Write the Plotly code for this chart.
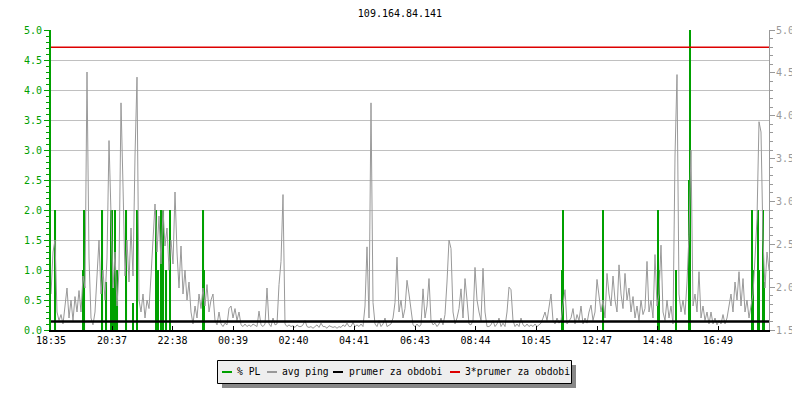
import pandas as pd
import plotly.graph_objects as go

title = "109.164.84.141"
start = pd.Timestamp("2024-05-14 18:35")
span_min = 1436

# avg ping [ms], one reading every 4 minutes starting at 18:35
avg_ping = [
    1.92, 2.41, 2.55, 1.71, 1.61, 1.68, 1.57, 1.75, 1.99, 1.64,
    1.85, 1.61, 1.89, 1.71, 1.96, 1.71, 2.13, 1.99, 4.51, 2.34,
    1.64, 1.56, 1.71, 2.13, 2.55, 1.92, 2.20, 1.85, 2.34, 3.71,
    2.76, 1.99, 2.41, 1.78, 2.20, 4.15, 3.18, 2.13, 2.55, 2.06,
    2.69, 2.13, 3.53, 4.45, 1.85, 1.71, 1.92, 1.64, 1.85, 1.75,
    2.13, 2.62, 2.97, 2.41, 2.83, 2.27, 2.90, 2.48, 2.69, 2.20,
    2.55, 2.27, 3.11, 2.41, 1.99, 2.48, 1.92, 2.20, 1.85, 2.06,
    1.71, 1.57, 1.78, 1.64, 1.92, 1.75, 1.99, 1.78, 2.03, 1.71,
    1.85, 1.92, 1.61, 1.56, 1.71, 1.57, 1.54, 1.58, 1.56, 1.75,
    1.78, 1.64, 1.75, 1.61, 1.71, 1.56, 1.54, 1.57, 1.54, 1.56,
    1.54, 1.57, 1.55, 1.54, 1.72, 1.56, 1.54, 1.57, 1.99, 1.57,
    1.54, 1.64, 1.56, 1.57, 2.03, 2.30, 3.08, 1.57, 1.54, 1.56,
    1.54, 1.55, 1.53, 1.56, 1.54, 1.54, 1.56, 1.61, 1.54, 1.53,
    1.54, 1.52, 1.54, 1.56, 1.53, 1.58, 1.54, 1.54, 1.52, 1.55,
    1.54, 1.53, 1.54, 1.52, 1.54, 1.53, 1.56, 1.54, 1.58, 1.54,
    1.54, 1.59, 1.54, 1.56, 1.54, 1.57, 1.54, 1.78, 2.47, 1.64,
    4.15, 1.82, 1.57, 1.54, 1.61, 1.54, 1.57, 1.64, 1.54, 1.56,
    1.57, 1.64, 1.82, 2.35, 1.71, 1.85, 1.64, 1.75, 2.08, 1.92,
    1.71, 1.56, 1.54, 1.57, 1.54, 1.56, 1.98, 1.64, 1.78, 2.10,
    1.61, 1.56, 1.58, 1.54, 1.57, 1.64, 1.56, 1.68, 2.06, 2.55,
    2.45, 1.71, 1.57, 1.64, 1.75, 1.98, 1.64, 2.10, 1.85, 1.57,
    1.56, 1.61, 2.23, 1.85, 1.71, 1.61, 2.22, 1.71, 1.54, 1.54,
    1.56, 1.61, 1.54, 1.57, 1.64, 1.54, 1.58, 1.54, 1.71, 2.00,
    1.97, 1.61, 1.54, 1.57, 1.54, 1.64, 1.56, 1.54, 1.57, 1.54,
    1.56, 1.54, 1.57, 1.54, 1.56, 1.58, 1.64, 1.71, 1.61, 1.78,
    1.92, 1.61, 1.57, 1.64, 1.58, 1.61, 1.82, 1.97, 1.57, 1.61,
    1.64, 1.75, 1.57, 1.68, 1.61, 1.78, 1.57, 1.64, 1.58, 1.71,
    1.79, 1.61, 1.71, 2.09, 1.92, 1.71, 1.85, 1.64, 2.16, 1.92,
    1.78, 2.13, 1.85, 1.71, 2.26, 1.92, 1.75, 2.16, 1.85, 1.99,
    1.71, 1.89, 1.64, 1.78, 1.61, 1.85, 1.68, 1.75, 2.30, 1.71,
    1.85, 1.64, 2.38, 1.78, 1.92, 2.49, 1.71, 1.61, 1.85, 1.64,
    1.78, 1.57, 3.53, 4.48, 1.92, 1.71, 1.85, 1.68, 2.06, 2.61,
    3.60, 1.78, 1.92, 1.71, 2.18, 1.64, 1.78, 1.61, 1.71, 1.57,
    1.71, 1.57, 1.64, 1.56, 1.61, 1.57, 1.68, 1.57, 1.64, 1.78,
    1.92, 1.71, 2.06, 1.85, 2.18, 1.78, 2.10, 1.71, 1.85, 1.64,
    1.78, 1.92, 2.34, 2.80, 3.93, 3.81, 2.55, 1.99, 2.41, 2.20,
]

# packet loss events [%]
pl_times = [
    "18:44", "19:40", "19:42", "20:18", "20:26", "20:36", "20:38", "20:41",
    "20:43", "20:46", "20:48", "21:06", "21:19", "21:27", "22:06", "22:09",
    "22:16", "22:20", "22:26", "22:33", "23:40", "23:41", "11:38", "11:39",
    "12:59", "13:00", "14:49", "14:51", "15:25", "15:51", "15:53", "17:57",
    "17:59", "18:09", "18:11", "18:19", "18:21",
]
pl_values = [
    2.0, 1.0, 2.0, 2.0, 0.8, 2.0, 2.0, 0.7,
    2.0, 0.7, 1.0, 2.0, 0.45, 2.0, 2.0, 1.0,
    2.0, 2.0, 1.0, 2.0, 2.0, 1.0, 1.0, 2.0,
    2.0, 1.0, 2.0, 1.0, 1.0, 2.5, 5.0, 2.0,
    1.0, 2.0, 1.0, 2.0, 0.8,
]

prumer = 1.60  # prumer za obdobi [ms]

tick_labels = ["18:35", "20:37", "22:38", "00:39", "02:40", "04:41",
               "06:43", "08:44", "10:45", "12:47", "14:48", "16:49"]

GREEN = "#00a000"
GRAY = "#999999"
FONT = "DejaVu Sans Mono"

# the page body adds an 8px offset, so the figure itself is 8px smaller
W, H = 792, 392


def to_ts(hhmm):
    t = pd.Timestamp(f"{start.date()} {hhmm}")
    if t < start:
        t += pd.Timedelta(days=1)
    return t


ping_x = [start + pd.Timedelta(minutes=4 * i) for i in range(len(avg_ping))]
pl_x = [to_ts(t) for t in pl_times]
end = start + pd.Timedelta(minutes=span_min)

fig = go.Figure()
fig.add_trace(go.Bar(x=pl_x, y=pl_values, width=130000, marker=dict(color=GREEN, line_width=0),
                     name="% PL", yaxis="y"))
fig.add_trace(go.Scatter(x=ping_x, y=avg_ping, mode="lines", line=dict(color=GRAY, width=1),
                         name="avg ping", yaxis="y2"))
fig.add_trace(go.Scatter(x=[start, end], y=[prumer, prumer], mode="lines",
                         line=dict(color="black", width=2.5), name="prumer za obdobi", yaxis="y2"))
fig.add_trace(go.Scatter(x=[start, end], y=[3 * prumer, 3 * prumer], mode="lines",
                         line=dict(color="#dd0000", width=1.5), name="3*prumer za obdobi", yaxis="y2"))


# page pixel -> plot fraction (plot area is 51..769 x 30..330 on the page)
def px(p):
    return (p - 51) / 718


def py(p):
    return (330 - p) / 300


shapes = [
    dict(type="rect", xref="paper", yref="paper", x0=px(222), x1=px(576), y0=py(388), y1=py(365),
         fillcolor="#888888", line_width=0),
    dict(type="rect", xref="paper", yref="paper", x0=px(217.5), x1=px(571.5), y0=py(383.5), y1=py(360.5),
         fillcolor="#eeeeee", line=dict(color="black", width=1)),
]
annotations = []
legend_items = [("% PL", GREEN, 222, 235), ("avg ping", GRAY, 267, 280),
                ("prumer za obdobi", "black", 333, 347), ("3*prumer za obdobi", "#dd0000", 450, 463)]
for label, color, sx, tx in legend_items:
    shapes.append(dict(type="line", xref="paper", yref="paper", x0=px(sx), x1=px(sx + 10),
                       y0=py(372), y1=py(372), line=dict(color=color, width=2)))
    annotations.append(dict(text=label, xref="paper", yref="paper", x=px(tx), y=py(371.5),
                            xanchor="left", yanchor="middle", showarrow=False,
                            font=dict(family=FONT, size=9.7, color="black")))

fig.update_layout(
    width=W, height=H,
    margin=dict(l=43, r=31, t=22, b=70, autoexpand=False),
    paper_bgcolor="white", plot_bgcolor="white",
    showlegend=False,
    font=dict(family=FONT, size=10, color="black"),
    title=dict(text=title, x=(400 - 8) / W, xanchor="center", y=1 - 5.5 / H, yanchor="middle",
               font=dict(family=FONT, size=10, color="black")),
    shapes=shapes, annotations=annotations,
    xaxis=dict(type="date", range=[start, end], tickvals=[to_ts(t) for t in tick_labels],
               ticktext=tick_labels, ticks="inside", ticklen=4, tickcolor="black",
               showline=True, linecolor="black", linewidth=2, showgrid=False, automargin=False,
               tickfont=dict(family=FONT, size=10, color="black")),
    yaxis=dict(range=[0, 5], tick0=0, dtick=0.5, tickformat=".1f", automargin=False,
               tickfont=dict(family=FONT, size=10, color=GREEN),
               ticks="outside", ticklen=5, tickcolor=GREEN,
               showline=True, linecolor=GREEN, linewidth=2,
               showgrid=True, gridcolor="#c0c0c0", zeroline=False,
               minor=dict(dtick=0.1, ticks="outside", ticklen=3, tickcolor=GREEN, showgrid=False)),
    yaxis2=dict(range=[1.5, 5.0], tick0=1.5, dtick=0.5, tickformat=".1f", overlaying="y", side="right",
                automargin=False, ticklabelstandoff=-1,
                tickfont=dict(family=FONT, size=10, color=GRAY),
                ticks="outside", ticklen=5, tickcolor=GRAY,
                showline=True, linecolor=GRAY, linewidth=1,
                showgrid=False, zeroline=False,
                minor=dict(dtick=0.1, ticks="outside", ticklen=3, tickcolor=GRAY, showgrid=False)),
)

fig.write_html("out.html")
